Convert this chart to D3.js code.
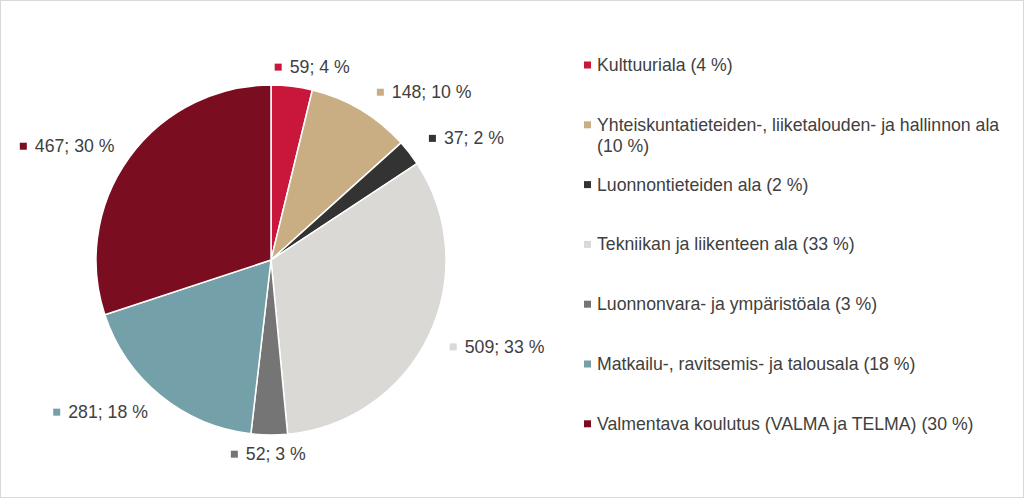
<!DOCTYPE html>
<html>
<head>
<meta charset="utf-8">
<script src="https://cdn.jsdelivr.net/npm/d3@7"></script>
<style>
  html, body { margin: 0; padding: 0; background: #fff; }
  svg { display: block; }
  text { font-family: "Liberation Sans", Arial, sans-serif; }
</style>
</head>
<body>
<svg id="chart" width="1024" height="498"></svg>
<script>
const categories = [
  "Kulttuuriala",
  "Yhteiskuntatieteiden-, liiketalouden- ja hallinnon ala",
  "Luonnontieteiden ala",
  "Tekniikan ja liikenteen ala",
  "Luonnonvara- ja ympäristöala",
  "Matkailu-, ravitsemis- ja talousala",
  "Valmentava koulutus (VALMA ja TELMA)"
];
const values = [59, 148, 37, 509, 52, 281, 467];
const percents = [4, 10, 2, 33, 3, 18, 30];
const colors = ["#C8173A", "#C9AE84", "#333333", "#DAD9D5", "#757575", "#74A0A9", "#7A0D20"];
// legend labels (line-wrapped as in the reference)
const legendLines = [
  ["Kulttuuriala (4 %)"],
  ["Yhteiskuntatieteiden-, liiketalouden- ja hallinnon ala", "(10 %)"],
  ["Luonnontieteiden ala (2 %)"],
  ["Tekniikan ja liikenteen ala (33 %)"],
  ["Luonnonvara- ja ympäristöala (3 %)"],
  ["Matkailu-, ravitsemis- ja talousala (18 %)"],
  ["Valmentava koulutus (VALMA ja TELMA) (30 %)"]
];

const svg = d3.select("#chart");
const W = 1024, H = 498;
const textColor = "#404040";
const fontSize = 17.7;

svg.append("rect").attr("x", 0.5).attr("y", 0.5).attr("width", W - 1).attr("height", H - 1)
  .attr("fill", "#fff").attr("stroke", "#D9D9D9").attr("stroke-width", 1);

const cx = 271, cy = 260, r = 175;
const g = svg.append("g").attr("transform", `translate(${cx},${cy})`);

const data = categories.map((c, i) => ({ name: c, value: values[i], pct: percents[i], color: colors[i] }));
const pie = d3.pie().sort(null).value(d => d.value);
const arcs = pie(data);
const arc = d3.arc().innerRadius(0).outerRadius(r);

g.selectAll("path.slice").data(arcs).join("path")
  .attr("class", "slice")
  .attr("d", arc)
  .attr("fill", d => d.data.color)
  .attr("stroke", "#fff")
  .attr("stroke-width", 1.5)
  .attr("stroke-linejoin", "round");

// data labels outside end
const labelR = r + 12;
const mk = 7, mkGap = 8;
arcs.forEach(d => {
  const a = (d.startAngle + d.endAngle) / 2;
  const s = Math.sin(a), c = Math.cos(a);
  const px = labelR * s, py = -labelR * c;
  const lg = g.append("g");
  const t = lg.append("text")
    .attr("font-size", fontSize)
    .attr("fill", textColor)
    .attr("dominant-baseline", "central")
    .attr("x", mk + mkGap)
    .attr("y", 0)
    .text(`${d.data.value}; ${d.data.pct} %`);
  const tw = t.node().getComputedTextLength();
  const w = mk + mkGap + tw, h = 18;
  lg.append("rect").attr("x", 0).attr("y", -mk / 2).attr("width", mk).attr("height", mk)
    .attr("fill", d.data.color);
  const sx = Math.max(-1, Math.min(1, s * 2));
  const sy = Math.max(-1, Math.min(1, -c * 2));
  const extra = s > 0.05 ? 10 : (s < -0.05 ? -5 : 0);
  const bx = px + sx * w / 2 + extra;
  const by = py + sy * h / 2 * 0.8 + (c > 0 && s < 0 ? 3 : 0);
  lg.attr("transform", `translate(${bx - w / 2},${by})`);
});

// legend
const legendX = 584, legendTop = 65, legendStep = 59.8, lineH = 21;
data.forEach((d, i) => {
  const y = legendTop + i * legendStep;
  const lgrp = svg.append("g").attr("transform", `translate(${legendX},${y})`);
  lgrp.append("rect").attr("x", 0).attr("y", -3.5).attr("width", 7).attr("height", 7).attr("fill", d.color);
  legendLines[i].forEach((ln, j) => {
    lgrp.append("text")
      .attr("x", 13).attr("y", j * lineH)
      .attr("dominant-baseline", "central")
      .attr("font-size", fontSize).attr("fill", textColor)
      .text(ln);
  });
});
</script>
</body>
</html>
